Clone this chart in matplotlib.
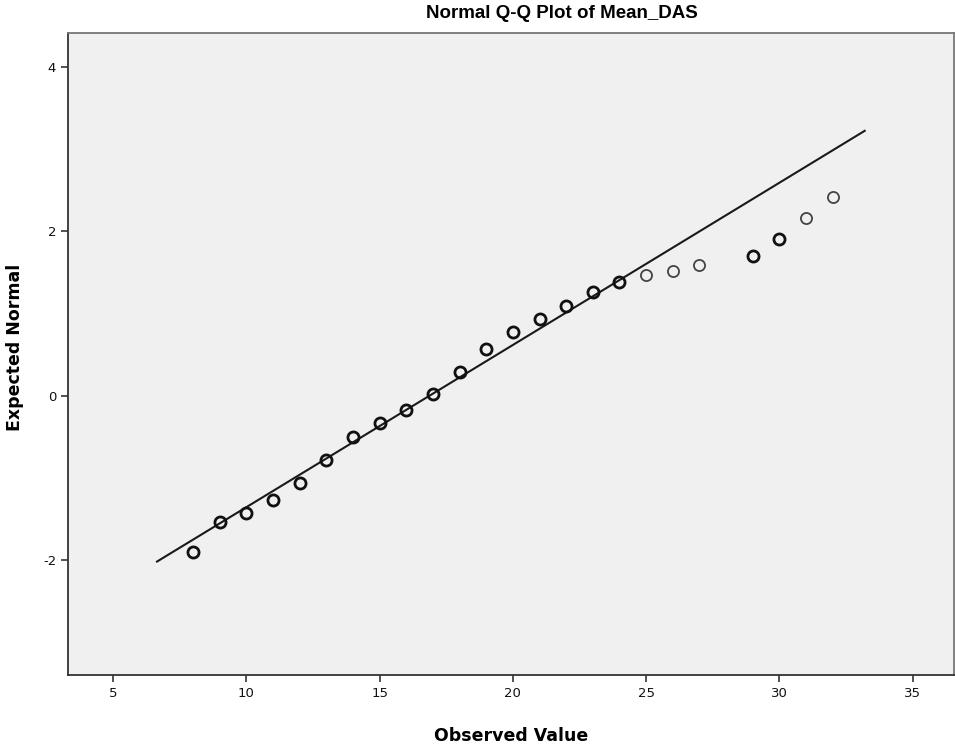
import numpy as np
import matplotlib
matplotlib.use("Agg")
from matplotlib import pyplot as plt

plt.rcParams['font.family'] = ['DejaVu Sans']
plt.rcParams['axes.unicode_minus'] = False

# observed values and expected normal scores
observed = [8, 9, 10, 11, 12, 13, 14, 15, 16, 17, 18, 19, 20, 21, 22, 23, 24, 25, 26, 27, 29, 30, 31, 32]
expected = [-1.90, -1.54, -1.43, -1.27, -1.07, -0.78, -0.51, -0.34, -0.18, 0.02, 0.29, 0.56,
            0.77, 0.93, 1.09, 1.26, 1.38, 1.46, 1.52, 1.59, 1.70, 1.90, 2.16, 2.41]
# repeated cases draw darker circles
bold = [1, 1, 1, 1, 1, 1, 1, 1, 1, 1, 1, 1, 1, 1, 1, 1, 1, 0, 0, 0, 1, 1, 0, 0]

# reference line end points
line_x = [6.65, 33.2]
line_y = [-2.02, 3.22]

xticks = [5, 10, 15, 20, 25, 30, 35]
yticks = [-2, 0, 2, 4]

fig = plt.figure(figsize=(9.55, 7.46), dpi=100)
ax = fig.add_axes([68 / 955, 71 / 746, 886 / 955, 642 / 746])
ax.set_facecolor('#f0f0f0')

ax.plot(line_x, line_y, color='#1a1a1a', lw=1.5, zorder=2)

obs = np.array(observed)
exp = np.array(expected)
b = np.array(bold) == 1
ax.plot(obs[b], exp[b], 'o', ms=8, mfc='none', mec='#111111', mew=2.0, zorder=3)
ax.plot(obs[~b], exp[~b], 'o', ms=8, mfc='none', mec='#444444', mew=1.3, zorder=3)

ax.set_xlim(3.31, 36.55)
ax.set_ylim(-3.40, 4.41)
ax.set_xticks(xticks)
ax.set_yticks(yticks)
ax.tick_params(labelsize=9.5, length=5, width=1.2, color='#333333', labelcolor='#111111')
ax.spines['left'].set_color('#333333')
ax.spines['bottom'].set_color('#333333')
ax.spines['top'].set_color('#777777')
ax.spines['right'].set_color('#777777')
for s in ax.spines.values():
    s.set_linewidth(1.3)

ax.set_xlabel('Observed Value', fontsize=12.5, fontweight='bold')
ax.xaxis.set_label_coords(0.5, -0.081)
ax.set_ylabel('Expected Normal', fontsize=12.5, fontweight='bold')
ax.yaxis.set_label_coords(-0.05, 0.51)
fig.text(562 / 955, 1 - 13 / 746, 'Normal Q-Q Plot of Mean_DAS', fontsize=13.5,
         fontweight='bold', family='Liberation Sans', ha='center', va='center')

fig.savefig('out.png', dpi=100, facecolor='white')
